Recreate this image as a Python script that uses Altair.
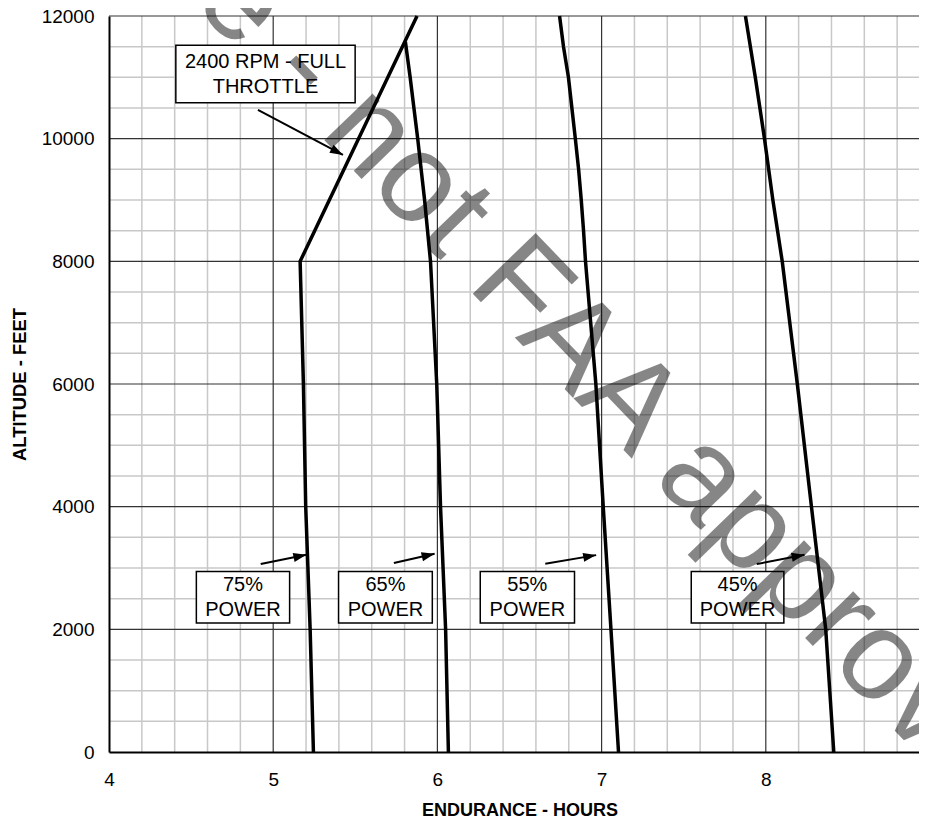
import altair as alt
import pandas as pd

FONT = "Liberation Sans"

# ---- curve data (endurance hours vs altitude ft) ----
alt_75 = [0, 2000, 4000, 6000, 8000, 12000]          # 75% power, joins full-throttle line at 8000
hrs_75 = [5.245, 5.225, 5.198, 5.184, 5.164, 5.876]
alt_65 = [0, 2000, 4000, 6000, 8000, 9000, 10000, 10500, 11000, 11580]
hrs_65 = [6.067, 6.050, 6.019, 5.996, 5.958, 5.922, 5.880, 5.857, 5.834, 5.805]
alt_55 = [0, 2000, 4000, 6000, 8000, 8500, 9000, 9500, 10000, 10500, 11000, 11500, 12000]
hrs_55 = [7.103, 7.057, 7.010, 6.965, 6.902, 6.890, 6.876, 6.860, 6.840, 6.819, 6.798, 6.768, 6.744]
alt_45 = [0, 2000, 4000, 6000, 8000, 9000, 10000, 11000, 12000]
hrs_45 = [8.414, 8.365, 8.278, 8.192, 8.100, 8.043, 7.992, 7.936, 7.876]

# ---- axis ticks / grid ----
x_ticks = [4, 5, 6, 7, 8, 9]
y_ticks = [0, 2000, 4000, 6000, 8000, 10000, 12000]
x_major = [5, 6, 7, 8]
x_minor = [4.2, 4.4, 4.6, 4.8, 5.2, 5.4, 5.6, 5.8, 6.2, 6.4, 6.6, 6.8,
           7.2, 7.4, 7.6, 7.8, 8.2, 8.4, 8.6, 8.8]
y_major = [2000, 4000, 6000, 8000, 10000, 12000]
y_minor = [500, 1000, 1500, 2500, 3000, 3500, 4500, 5000, 5500, 6500, 7000, 7500,
           8500, 9000, 9500, 10500, 11000, 11500]

# ---- annotation boxes ----
box_lines = [["2400 RPM - FULL", "THROTTLE"], ["75%", "POWER"], ["65%", "POWER"],
             ["55%", "POWER"], ["45%", "POWER"]]
box_x1 = [4.407, 4.532, 5.398, 6.261, 7.546]
box_x2 = [5.499, 5.100, 5.969, 6.835, 8.110]
box_y1 = [10586, 2102, 2102, 2102, 2102]
box_y2 = [11522, 2943, 2943, 2943, 2943]
text_base_y = [11147, 2617, 2617, 2617, 2617]   # first-line baseline altitude

# ---- arrows ----
arr_x1 = [4.907, 4.924, 5.735, 6.657, 7.945]
arr_y1 = [10468, 3064, 3080, 3069, 3064]
arr_x2 = [5.425, 5.202, 5.983, 6.967, 8.236]
arr_y2 = [9735, 3215, 3232, 3210, 3215]
arr_ang = [28, 348, 347, 350, 349]

# ---- watermark ----
wm_text = ["Example - not FAA approved"]
wm_x = [6.293]
wm_y = [8145]

curves = pd.DataFrame(
    [{"s": "75", "x": h, "y": a, "o": i} for i, (h, a) in enumerate(zip(hrs_75, alt_75))]
    + [{"s": "65", "x": h, "y": a, "o": i} for i, (h, a) in enumerate(zip(hrs_65, alt_65))]
    + [{"s": "55", "x": h, "y": a, "o": i} for i, (h, a) in enumerate(zip(hrs_55, alt_55))]
    + [{"s": "45", "x": h, "y": a, "o": i} for i, (h, a) in enumerate(zip(hrs_45, alt_45))]
)
boxes = pd.DataFrame({"x": box_x1, "x2": box_x2, "y": box_y1, "y2": box_y2})
labels = pd.DataFrame({
    "x": [(a + b) / 2 for a, b in zip(box_x1, box_x2)],
    "y": text_base_y,
    "t": box_lines,
})
arrows = pd.DataFrame({"x": arr_x1, "y": arr_y1, "x2": arr_x2, "y2": arr_y2})
heads = pd.DataFrame({"x": arr_x2, "y": arr_y2, "ang": arr_ang})
wm = pd.DataFrame({"x": wm_x, "y": wm_y, "t": wm_text})

xscale = alt.Scale(domain=[4, 9], range=[0, 821], nice=False, zero=False)
yscale = alt.Scale(domain=[0, 12000], nice=False, zero=False)

xaxis = alt.Axis(values=x_ticks, format="d", labelFlush=False, ticks=False, grid=False,
                 labelPadding=18, labelFontSize=19, labelFont=FONT, labelColor="black",
                 domainColor="black", domainWidth=2, title="ENDURANCE - HOURS",
                 titleFont=FONT, titleFontSize=18, titleFontWeight="bold",
                 titleColor="black", titleY=49.5, titleBaseline="top", zindex=1)
yaxis = alt.Axis(values=y_ticks, format="d", labelFlush=False, ticks=False, grid=False,
                 labelPadding=15, labelFontSize=19, labelFont=FONT, labelColor="black",
                 domainColor="black", domainWidth=2, title="ALTITUDE - FEET",
                 titleFont=FONT, titleFontSize=18.4, titleFontWeight="bold",
                 titleColor="black", titleX=-89.5, titleBaseline="middle", zindex=1)

X = alt.X("x:Q", scale=xscale, axis=xaxis)
Y = alt.Y("y:Q", scale=yscale, axis=yaxis)

gx_minor = alt.Chart(pd.DataFrame({"x": x_minor})).mark_rule(
    color="#c8c8c8", strokeWidth=1.5).encode(x=X)
gy_minor = alt.Chart(pd.DataFrame({"y": y_minor})).mark_rule(
    color="#c8c8c8", strokeWidth=1.5).encode(y=Y)
gx_major = alt.Chart(pd.DataFrame({"x": x_major})).mark_rule(
    color="#333333", strokeWidth=1.2).encode(x=X)
gy_major = alt.Chart(pd.DataFrame({"y": y_major})).mark_rule(
    color="#333333", strokeWidth=1.2).encode(y=Y)

lines = alt.Chart(curves).mark_line(color="black", strokeWidth=3.5, strokeJoin="miter").encode(
    x=X, y=Y, detail="s:N", order=alt.Order("o:Q"))

rects = alt.Chart(boxes).mark_rect(fill="white", stroke="black", strokeWidth=1.5).encode(
    x=X, x2="x2:Q", y=Y, y2="y2:Q")
texts = alt.Chart(labels).mark_text(font=FONT, fontSize=20, lineHeight=24.4, align="center",
                                    baseline="alphabetic", color="black").encode(
    x=X, y=Y, text="t")
shafts = alt.Chart(arrows).mark_rule(color="black", strokeWidth=2).encode(
    x=X, y=Y, x2="x2:Q", y2="y2:Q")
arrowheads = alt.Chart(heads).mark_point(shape="M0,0L-2,-0.7L-2,0.7Z", filled=True, size=169,
                                         color="black", opacity=1, strokeWidth=0).encode(
    x=X, y=Y, angle=alt.Angle("ang:Q", scale=None))
watermark = alt.Chart(wm).mark_text(font=FONT, fontSize=127, angle=46, align="center",
                                    baseline="middle", color="black", opacity=0.47).encode(
    x=X, y=Y, text="t")

chart = alt.layer(
    gx_minor, gy_minor, gx_major, gy_major, lines, rects, texts, shafts, arrowheads, watermark
).properties(
    width=810, height=736,
    autosize=alt.AutoSizeParams(type="none"),
    padding={"left": 101, "top": 8, "right": 0, "bottom": 65},
    background="white",
).configure_view(stroke=None)

chart.save("out.html", embed_options={"renderer": "svg", "actions": False})
